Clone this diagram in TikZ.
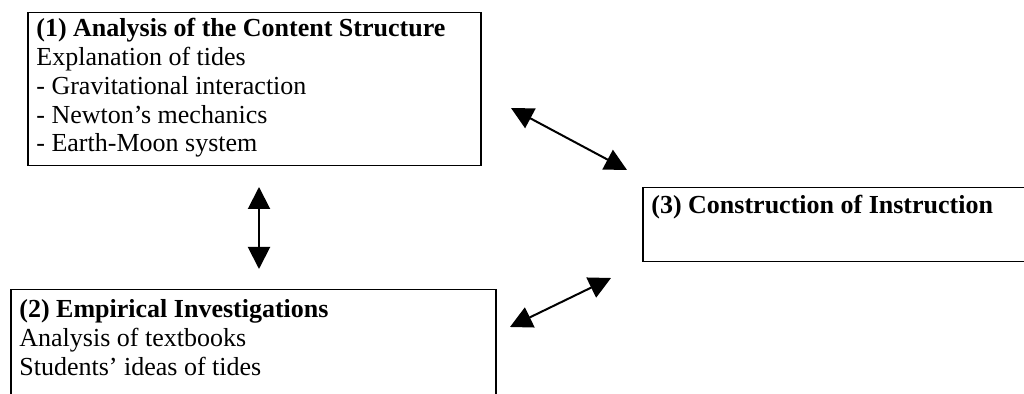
\documentclass[tikz,border=0pt]{standalone}
\usepackage{fontspec}
\setmainfont{Liberation Serif}
\usepackage{xcolor}
\usetikzlibrary{
  positioning,
  calc,
  arrows.meta
}

\begin{document}
\begin{tikzpicture}[x=0.5pt,y=-0.5pt,
  waku/.style={draw,line width=0.75pt,rectangle,anchor=north west,inner sep=0pt},
  moji/.style={anchor=north west,align=left,inner sep=0pt,font=\fontsize{13}{14.4}\selectfont},
  dbl/.style={{Triangle[length=11pt,width=11pt]}-{Triangle[length=11pt,width=11pt]},line width=1pt}]
  \useasboundingbox (0,0) rectangle (1024,394);

  % 三つの枠
  \node[waku,minimum width=226.5pt,minimum height=76.5pt] (box1) at (27,12) {};
  \node[waku,minimum width=242.5pt,minimum height=70pt] (box2) at (10,289) {};
  \node[waku,minimum width=205pt,minimum height=37pt] (box3) at (642,187) {};

  % 枠の中の文字
  \node[moji] (text1) at (36,18) {\textbf{(1) Analysis of the Content Structure}\\
    Explanation of tides\\
    - Gravitational interaction\\
    - Newton’s mechanics\\
    - Earth-Moon system};
  \node[moji] (text2) at (19,299) {\textbf{(2) Empirical Investigations}\\
    Analysis of textbooks\\
    Students’ ideas of tides};
  \node[moji] (text3) at (651,195) {\textbf{(3) Construction of Instruction}};

  % 両向きの矢印の端
  \coordinate (v1) at (259,187);
  \coordinate (v2) at (259,269);
  \coordinate (p1) at (511,108);
  \coordinate (p2) at (627,170);
  \coordinate (q1) at (510,327);
  \coordinate (q2) at (611,278);

  \foreach \a/\b in {v1/v2,p1/p2,q1/q2}
  \draw[dbl] (\a)--(\b);
\end{tikzpicture}
\end{document}
